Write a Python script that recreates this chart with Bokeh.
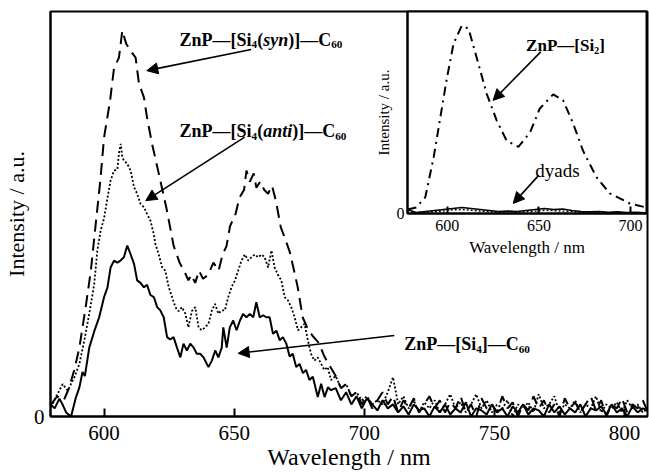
from bokeh.plotting import figure
from bokeh.models import Label, Arrow, NormalHead, FixedTicker
from bokeh.layouts import column
from bokeh.embed import file_html
from bokeh.resources import INLINE

FONT = "Liberation Serif"

# ---------------- data: main panel ----------------
tick_main = [600, 650, 700, 750, 800]
tick_inset = [600, 650, 700]

syn_wl = [579.6, 582.0, 584.5, 586.5, 588.5, 590.5, 593.0, 594.9, 596.2, 598.5,
          600.0, 602.3, 603.8, 605.7, 607.0, 608.5, 610.5, 612.1, 613.4, 615.3,
          616.5, 618.4, 621.0, 624.0, 626.7, 629.0, 631.2, 632.4, 633.5, 635.0,
          636.5, 638.0, 640.0, 642.0, 644.0, 645.5, 647.0, 648.4, 650.5, 652.0,
          653.8, 654.7, 656.0, 657.5, 658.5, 660.0, 661.5, 663.0, 664.5, 666.0,
          667.9, 669.5, 671.3, 673.0, 674.4, 676.3, 678.0, 680.0, 682.7, 684.5,
          686.6]
syn_int = [0.03, 0.05, 0.04, 0.07, 0.114, 0.17, 0.274, 0.36, 0.44, 0.58,
           0.69, 0.78, 0.86, 0.886, 0.953, 0.92, 0.9, 0.886, 0.822, 0.788,
           0.738, 0.674, 0.6, 0.513, 0.422, 0.38, 0.353, 0.336, 0.35, 0.33,
           0.36, 0.34, 0.35, 0.38, 0.36, 0.40, 0.42, 0.47, 0.50, 0.54,
           0.56, 0.607, 0.58, 0.6, 0.565, 0.58, 0.56, 0.55, 0.57, 0.533,
           0.467, 0.44, 0.407, 0.36, 0.319, 0.245, 0.22, 0.2, 0.18, 0.15,
           0.126]

anti_wl = [579.6, 582.1, 584.1, 586.0, 588.6, 590.5, 592.4, 594.3, 596.2, 597.4,
           598.7, 600.0, 601.3, 602.5, 603.8, 605.1, 605.7, 606.4, 607.0, 607.6,
           608.9, 610.2, 611.5, 612.7, 614.0, 615.3, 616.5, 617.8, 619.1, 619.7,
           621.0, 622.3, 623.5, 624.8, 626.1, 627.4, 628.6, 629.9, 631.2, 632.4,
           633.7, 635.0, 636.3, 637.5, 638.8, 640.1, 641.4, 642.6, 643.9, 645.2,
           646.4, 647.7, 649.0, 650.3, 651.5, 652.8, 654.1, 655.4, 656.6, 657.9,
           659.2, 660.5, 661.7, 663.0, 664.3, 665.5, 666.8, 668.1, 669.4, 670.6,
           671.9, 673.2, 674.5, 675.7, 677.0, 678.3, 679.5, 680.8, 682.1, 683.4,
           684.6, 685.9, 687.2]
anti_int = [0.023, 0.056, 0.08, 0.064, 0.097, 0.13, 0.188, 0.254, 0.327, 0.41,
            0.46, 0.49, 0.54, 0.583, 0.607, 0.61, 0.65, 0.673, 0.64, 0.632,
            0.624, 0.607, 0.566, 0.55, 0.525, 0.517, 0.5, 0.484, 0.45, 0.426,
            0.40, 0.368, 0.36, 0.32, 0.295, 0.27, 0.26, 0.27, 0.254, 0.22,
            0.26, 0.27, 0.22, 0.213, 0.22, 0.229, 0.262, 0.278, 0.254, 0.262,
            0.262, 0.295, 0.32, 0.336, 0.36, 0.385, 0.40, 0.385, 0.393, 0.40,
            0.393, 0.40, 0.393, 0.368, 0.41, 0.368, 0.35, 0.336, 0.295, 0.287,
            0.27, 0.245, 0.213, 0.22, 0.229, 0.188, 0.155, 0.138, 0.146, 0.13,
            0.115, 0.122, 0.09]

si4_wl = [579.5, 581.0, 582.8, 584.0, 585.4, 587.3, 589.2, 590.5, 591.7, 592.6,
          594.3, 596.2, 598.1, 600.0, 601.3, 602.5, 603.8, 605.1, 606.3, 607.6,
          608.9, 610.2, 611.5, 612.7, 614.0, 615.3, 616.5, 617.8, 619.1, 620.4,
          621.6, 622.9, 624.2, 625.4, 626.7, 628.0, 629.3, 630.5, 631.8, 633.1,
          634.4, 635.6, 636.9, 638.2, 640.1, 641.4, 642.7, 643.9, 645.2, 645.8,
          647.1, 648.3, 649.6, 650.9, 652.2, 653.4, 654.7, 656.0, 657.3, 658.5,
          659.8, 661.1, 662.3, 663.6, 664.9, 666.2, 667.5, 668.7, 670.0, 671.3,
          672.5, 673.8, 675.1, 676.4, 677.6, 678.9, 680.2, 682.1, 683.4, 684.7,
          686.0, 687.2]
si4_int = [0.03, 0.02, 0.044, 0.03, 0.01, 0.0, 0.048, 0.072, 0.11, 0.1,
           0.17, 0.21, 0.245, 0.295, 0.319, 0.368, 0.385, 0.38, 0.385, 0.393,
           0.422, 0.40, 0.377, 0.336, 0.33, 0.319, 0.325, 0.30, 0.295, 0.27,
           0.262, 0.245, 0.196, 0.19, 0.196, 0.17, 0.146, 0.18, 0.163, 0.18,
           0.17, 0.155, 0.155, 0.146, 0.122, 0.138, 0.163, 0.146, 0.17, 0.22,
           0.17, 0.22, 0.237, 0.213, 0.237, 0.253, 0.245, 0.253, 0.245, 0.282,
           0.245, 0.25, 0.245, 0.245, 0.204, 0.212, 0.188, 0.196, 0.18, 0.148,
           0.155, 0.122, 0.13, 0.107, 0.115, 0.09, 0.098, 0.048, 0.081, 0.048,
           0.072, 0.065]

# noisy baseline region, 689 ... 809 nm every 2 nm
tail_wl = list(range(689, 810, 2))
syn_tail = [0.10, 0.07, 0.08, 0.05, 0.06, 0.03, 0.05, 0.02, 0.04, 0.06,
            0.03, 0.05, 0.01, 0.04, 0.02, 0.045, 0.01, 0.03, 0.05, 0.02,
            0.04, 0.01, 0.035, 0.02, 0.05, 0.01, 0.03, 0.0, 0.045, 0.02,
            0.03, 0.01, 0.05, 0.02, 0.035, 0.0, 0.03, 0.015, 0.05, 0.02,
            0.04, 0.01, 0.03, 0.0, 0.045, 0.02, 0.035, 0.01, 0.03, 0.05,
            0.015, 0.04, 0.0, 0.03, 0.02, 0.045, 0.01, 0.03, 0.02, 0.04,
            0.01]
anti_tail = [0.10, 0.07, 0.08, 0.05, 0.06, 0.04, 0.05, 0.03, 0.04, 0.03,
             0.06, 0.097, 0.03, 0.05, 0.02, 0.04, 0.01, 0.035, 0.02, 0.04,
             0.01, 0.03, 0.055, 0.02, 0.035, 0.01, 0.03, 0.055, 0.02, 0.04,
             0.01, 0.03, 0.02, 0.04, 0.0, 0.03, 0.02, 0.035, 0.01, 0.055,
             0.02, 0.03, 0.05, 0.01, 0.03, 0.02, 0.04, 0.01, 0.03, 0.02,
             0.05, 0.01, 0.03, 0.02, 0.035, 0.01, 0.04, 0.02, 0.03, 0.01,
             0.02]
si4_tail = [0.07, 0.04, 0.06, 0.03, 0.05, 0.02, 0.045, 0.03, 0.015, 0.04,
            0.02, 0.03, 0.01, 0.025, 0.005, 0.03, 0.015, 0.02, 0.0, 0.025,
            0.01, 0.03, 0.005, 0.02, 0.01, 0.035, 0.0, 0.02, 0.015, 0.005,
            0.03, 0.01, 0.02, 0.0, 0.025, 0.01, 0.03, 0.005, 0.02, 0.015,
            0.0, 0.03, 0.01, 0.025, 0.005, 0.02, 0.01, 0.03, 0.0, 0.02,
            0.015, 0.025, 0.005, 0.03, 0.01, 0.02, 0.0, 0.025, 0.01, 0.02,
            0.015]

# ---------------- data: inset ----------------
si2_wl = [578.3, 583.0, 588.0, 592.6, 596.2, 599.8, 603.4, 607.9, 611.6, 616.1,
          621.6, 627.0, 632.4, 638.8, 645.1, 650.5, 657.8, 663.2, 668.7, 674.1,
          681.4, 688.6, 699.5, 708.5]
si2_int = [0.02, 0.03, 0.08, 0.28, 0.475, 0.67, 0.84, 0.93, 0.915, 0.77,
           0.59, 0.46, 0.36, 0.33, 0.40, 0.52, 0.59, 0.56, 0.445, 0.31,
           0.18, 0.10, 0.05, 0.03]
dyad_wl = [578, 583, 588, 593, 598, 603, 608, 613, 618, 623, 628, 633, 638, 643,
           648, 653, 658, 663, 668, 673, 678, 683, 688, 693, 698, 703, 708]
dyad_a = [0.02, 0.005, 0.01, 0.015, 0.02, 0.025, 0.03, 0.025, 0.02, 0.015, 0.01, 0.012, 0.01, 0.015,
          0.02, 0.025, 0.02, 0.022, 0.015, 0.01, 0.008, 0.01, 0.006, 0.008, 0.005, 0.006, 0.004]
dyad_b = [0.01, 0.004, 0.006, 0.01, 0.012, 0.018, 0.02, 0.016, 0.012, 0.01, 0.006, 0.008, 0.006, 0.01,
          0.012, 0.016, 0.014, 0.012, 0.01, 0.006, 0.005, 0.006, 0.004, 0.005, 0.003, 0.004, 0.003]

# ---------------- text metrics (Times / Liberation Serif Bold, per em) ----------------
W_BOLD = {"Z": .667, "n": .556, "P": .611, "\u2014": 1.0, "[": .333, "]": .333, "S": .556,
          "i": .278, "(": .333, ")": .333, "C": .722, "0": .5, "2": .5, "4": .5, "6": .5}
W_BI = {"s": .389, "y": .444, "n": .556, "a": .5, "t": .278, "i": .278}


def rich_label(fig, x, y, pieces, size):
    """pieces: list of (text, style, sub)"""
    off = 0.0
    for txt, style, sub in pieces:
        fs = size * 0.62 if sub else size
        table = W_BI if style == "bold italic" else W_BOLD
        fig.add_layout(Label(x=x, y=y, x_offset=off, y_offset=-size * 0.28 if sub else 0,
                             text=txt, text_font=FONT, text_font_style=style,
                             text_font_size=f"{fs:.1f}px", text_color="black",
                             text_baseline="alphabetic", text_align="left"))
        off += sum(table.get(c, .5) for c in txt) * fs


def arrow(fig, x0, y0, x1, y1):
    fig.add_layout(Arrow(x_start=x0, y_start=y0, x_end=x1, y_end=y1, line_width=1.6,
                         line_color="black",
                         end=NormalHead(size=11, fill_color="black", line_color="black")))


def style_axes(fig, tick_size, title_size):
    for ax in fig.axis:
        ax.axis_line_width = 2
        ax.axis_line_color = "black"
        ax.major_label_text_font = FONT
        ax.major_label_text_font_size = tick_size
        ax.major_label_text_color = "black"
        ax.axis_label_text_font = FONT
        ax.axis_label_text_font_style = "normal"
        ax.axis_label_text_font_size = title_size
        ax.axis_label_text_color = "black"
        ax.minor_tick_line_color = None
    fig.grid.visible = False
    fig.outline_line_color = "black"
    fig.outline_line_width = 2


# ---------------- main figure ----------------
p = figure(width=649, height=473, x_range=(579.4, 808.8), y_range=(0, 1.0),
           output_backend="svg", toolbar_location=None,
           min_border_left=46, min_border_right=2, min_border_top=11, min_border_bottom=57)
p.xaxis.ticker = FixedTicker(ticks=tick_main)
p.yaxis.ticker = FixedTicker(ticks=[0])
p.xaxis.axis_label = "Wavelength / nm"
p.yaxis.axis_label = "Intensity / a.u."
style_axes(p, "21px", "24px")
p.yaxis.axis_label_text_font_size = "22px"
p.xaxis.major_tick_in = 8
p.xaxis.major_tick_out = 0
p.xaxis.major_tick_line_width = 2
p.xaxis.major_label_standoff = 9
p.xaxis.axis_label_standoff = 1
p.yaxis.major_tick_in = 0
p.yaxis.major_tick_out = 0
p.yaxis.major_label_standoff = 6
p.yaxis.axis_label_standoff = 2

p.line(syn_wl + tail_wl, syn_int + syn_tail, line_color="black", line_width=2, line_dash="12 7")
p.line(anti_wl + tail_wl, anti_int + anti_tail, line_color="black", line_width=1.8, line_dash="2 2")
p.line(si4_wl + tail_wl, si4_int + si4_tail, line_color="black", line_width=2)

B, BI = "bold", "bold italic"
rich_label(p, 629.0, 0.93, [("ZnP\u2014[Si", B, False), ("4", B, True), ("(", B, False),
                            ("syn", BI, False), (")]\u2014C", B, False), ("60", B, True)], 18)
rich_label(p, 629.0, 0.705, [("ZnP\u2014[Si", B, False), ("4", B, True), ("(", B, False),
                             ("anti", BI, False), (")]\u2014C", B, False), ("60", B, True)], 18)
rich_label(p, 715.3, 0.178, [("ZnP\u2014[Si", B, False), ("4", B, True), ("]\u2014C", B, False),
                             ("60", B, True)], 18)
arrow(p, 656.5, 0.906, 616.4, 0.854)
arrow(p, 654.0, 0.69, 616.0, 0.533)
arrow(p, 711.5, 0.20, 651.5, 0.156)

# ---------------- inset figure ----------------
pi = figure(width=291, height=265, x_range=(578.3, 708.7), y_range=(0, 1.0),
            output_backend="svg", toolbar_location=None,
            min_border_left=50, min_border_right=1, min_border_top=11, min_border_bottom=52)
pi.border_fill_color = None
pi.background_fill_color = "white"
pi.xaxis.ticker = FixedTicker(ticks=tick_inset)
pi.yaxis.ticker = FixedTicker(ticks=[0])
pi.xaxis.axis_label = "Wavelength / nm"
pi.yaxis.axis_label = "Intensity / a.u."
style_axes(pi, "16px", "17px")
pi.yaxis.axis_label_text_font_size = "15px"
pi.xaxis.major_tick_in = 7
pi.xaxis.major_tick_out = 0
pi.xaxis.major_tick_line_width = 2
pi.xaxis.major_label_standoff = 6
pi.xaxis.axis_label_standoff = 4
pi.yaxis.major_tick_in = 0
pi.yaxis.major_tick_out = 0
pi.yaxis.major_label_standoff = 3
pi.yaxis.axis_label_standoff = 2

pi.line(si2_wl, si2_int, line_color="black", line_width=2, line_dash="9 5 2 5")
pi.line(dyad_wl, dyad_a, line_color="black", line_width=1.6)
pi.line(dyad_wl, dyad_b, line_color="black", line_width=1.4, line_dash="2 2")

rich_label(pi, 643.0, 0.83, [("ZnP\u2014[Si", B, False), ("2", B, True), ("]", B, False)], 17)
arrow(pi, 651.0, 0.80, 625.0, 0.56)
pi.add_layout(Label(x=648.0, y=0.215, text="dyads", text_font=FONT, text_font_size="19px",
                    text_color="black", text_baseline="alphabetic", text_align="left"))
arrow(pi, 650.0, 0.19, 636.0, 0.05)

pi.styles = {"position": "absolute", "left": "357px", "top": "0px", "z-index": "5"}

layout = column(p, pi)
open("out.html", "w").write(file_html(layout, INLINE))
